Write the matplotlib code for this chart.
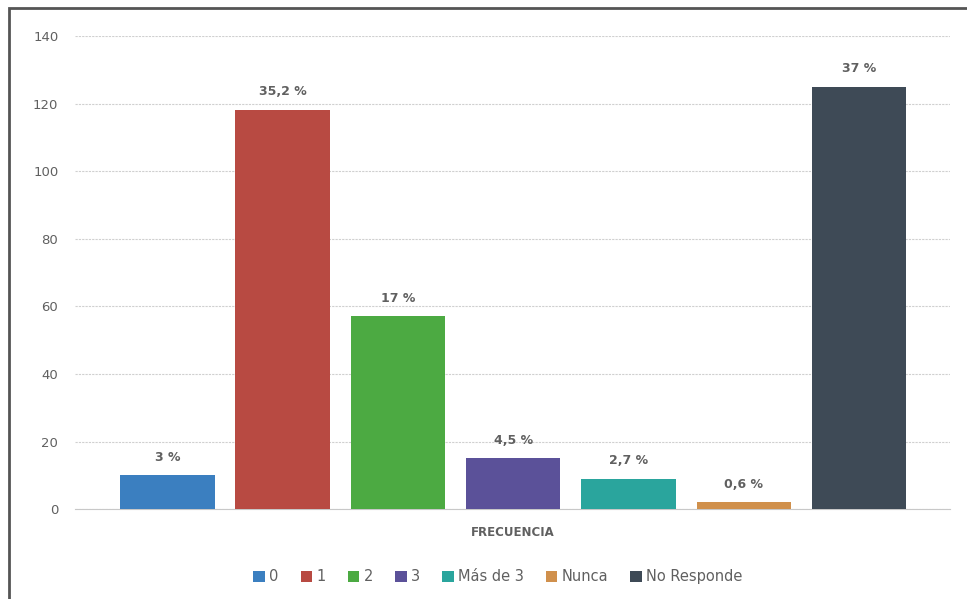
import matplotlib.pyplot as plt
from matplotlib.patches import Rectangle

# datos
categorias = ['0', '1', '2', '3', 'Más de 3', 'Nunca', 'No Responde']
frecuencia = [10, 118, 57, 15, 9, 2, 125]
porcentajes = ['3 %', '35,2 %', '17 %', '4,5 %', '2,7 %', '0,6 %', '37 %']
colores = ['#3b7fc0', '#b84a42', '#4caa42', '#5b5199', '#2aa59d', '#d0904c', '#3e4a56']
yticks = [0, 20, 40, 60, 80, 100, 120, 140]

plt.rcParams['font.family'] = ['DejaVu Sans']
gris = '#606060'

fig = plt.figure(figsize=(9.67, 5.99), dpi=100)
ax = fig.add_axes([0.0776, 0.150, 0.905, 0.790])

x = list(range(len(categorias)))
barras = ax.bar(x, frecuencia, width=0.82, color=colores, label=categorias, zorder=3)

for xi, v, p in zip(x, frecuencia, porcentajes):
    ax.text(xi, v + 3.5, p, ha='center', va='bottom', fontsize=9,
            fontweight='bold', color=gris)

ax.set_ylim(0, 140)
ax.set_xlim(-0.80, 6.79)
ax.set_yticks(yticks)
ax.tick_params(axis='y', length=0, colors=gris, labelsize=9.5, pad=12)
ax.set_xticks([])
ax.grid(axis='y', color='#d0d0d0', linestyle=(0, (2, 1)), linewidth=0.8, zorder=0)
for lado in ['top', 'right', 'left']:
    ax.spines[lado].set_visible(False)
ax.spines['bottom'].set_color('#c8c8c8')

ax.set_xlabel('FRECUENCIA', fontsize=8.5, fontweight='bold', color=gris, labelpad=12)

fig.legend(handles=barras, labels=categorias, loc='center', bbox_to_anchor=(0.515, 0.037),
           ncol=7, frameon=False, fontsize=10.5, handlelength=0.8, handleheight=0.8,
           handletextpad=0.3, columnspacing=1.5, labelcolor=gris)

# marco exterior (solo se ve arriba y a la izquierda)
fig.patches.append(Rectangle((0.009, -0.05), 1.1, 1.037, transform=fig.transFigure,
                             fill=False, edgecolor='#555555', linewidth=2))

fig.savefig('out.png', dpi=100)
